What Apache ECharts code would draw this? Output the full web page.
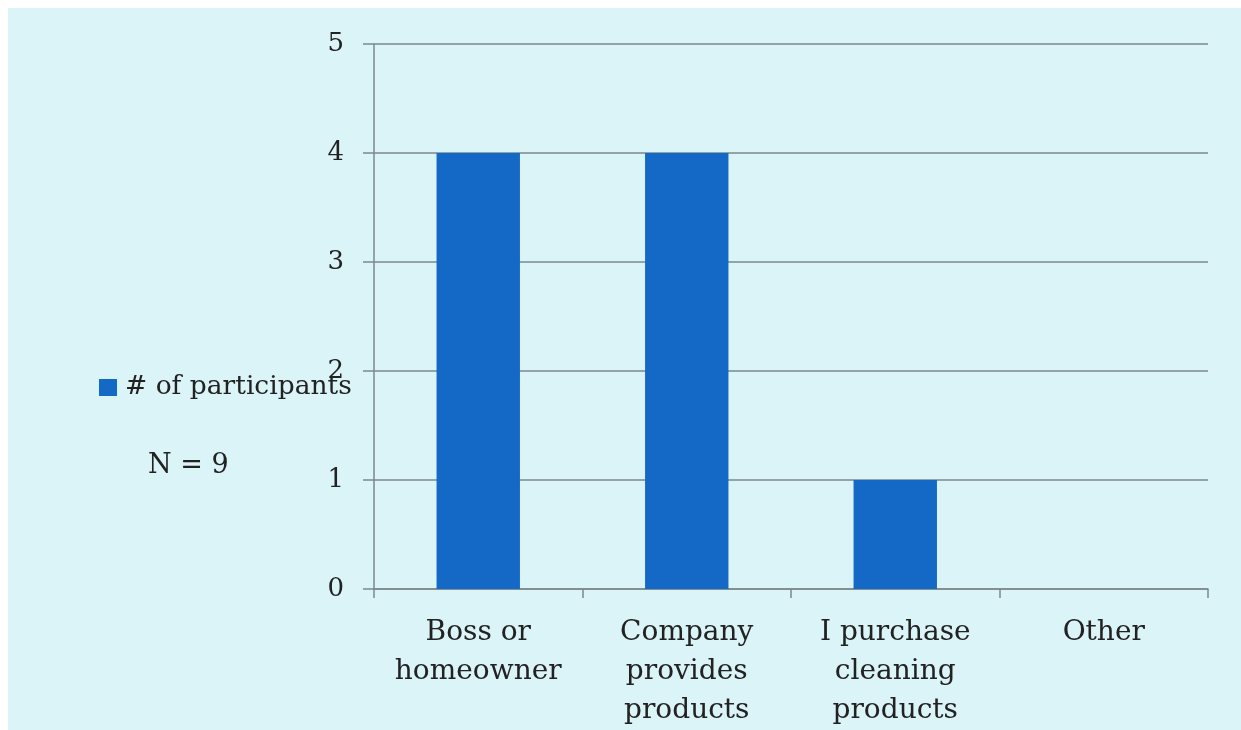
<!DOCTYPE html>
<html>
<head>
<meta charset="utf-8">
<script src="https://cdn.jsdelivr.net/npm/echarts@6/dist/echarts.min.js"></script>
<style>
html,body{margin:0;padding:0;background:#ffffff;}
#c{width:1241px;height:730px;}
</style>
</head>
<body>
<div id="c"></div>
<script>
const categories = ['Boss or\nhomeowner', 'Company\nprovides\nproducts', 'I purchase\ncleaning\nproducts', 'Other'];
const seriesName = '# of participants';
const values = [4, 4, 1, 0];
const yTicks = [0, 1, 2, 3, 4, 5];
const noteText = 'N = 9';

const FONT = '"DejaVu Serif", "Liberation Serif", serif';
const chart = echarts.init(document.getElementById('c'), null, {renderer: 'canvas'});
chart.setOption({
  backgroundColor: 'transparent',
  animation: false,
  graphic: [
    {type: 'rect', left: 8, top: 8, z: -10, shape: {width: 1233, height: 722}, style: {fill: '#daf4f8'}},
    {type: 'text', left: 148, top: 452, style: {text: noteText, font: '27px ' + FONT, fill: '#222'}}
  ],
  grid: {left: 374, right: 33, top: 44, bottom: 136},
  legend: {
    left: 99, top: 374, orient: 'vertical', padding: 0,
    itemWidth: 18, itemHeight: 17, itemGap: 8,
    icon: 'rect',
    textStyle: {fontFamily: FONT, fontSize: 26.5, color: '#222', padding: [0, 0, 0, 3]},
    data: [seriesName]
  },
  xAxis: {
    type: 'category',
    data: categories,
    axisLine: {lineStyle: {color: '#7d898b', width: 1.5}},
    axisTick: {show: true, length: 9, lineStyle: {color: '#7d898b', width: 1.5}},
    axisLabel: {fontFamily: FONT, fontSize: 28, color: '#222', lineHeight: 39, margin: 24, interval: 0}
  },
  yAxis: {
    type: 'value', min: 0, max: yTicks[yTicks.length - 1], interval: 1,
    axisLine: {show: true, lineStyle: {color: '#7d898b', width: 1.5}},
    axisTick: {show: true, length: 11, lineStyle: {color: '#7d898b', width: 1.5}},
    splitLine: {lineStyle: {color: '#7d898b', width: 1.5}},
    axisLabel: {fontFamily: FONT, fontSize: 26, color: '#222', margin: 30, padding: [10, 0, 0, 0]}
  },
  series: [{
    name: seriesName,
    type: 'bar',
    data: values,
    barWidth: '40%',
    itemStyle: {color: '#1469c6'}
  }]
});
</script>
</body>
</html>
